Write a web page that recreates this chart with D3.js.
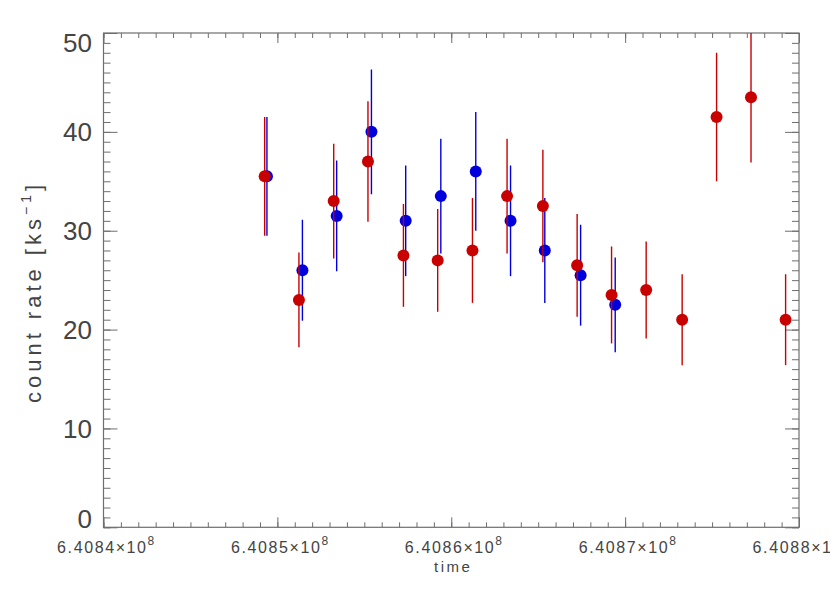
<!DOCTYPE html>
<html>
<head>
<meta charset="utf-8">
<script src="https://cdn.jsdelivr.net/npm/d3@7"></script>
<style>
  body { margin: 0; background: #fff; }
  svg { display: block; font-family: "Liberation Sans", Arial, sans-serif; }
</style>
</head>
<body>
<div id="plot"></div>
<script>
// ---------- Data ---------- //
var redTime = [640849270, 640851240, 640853240, 640855210, 640857250, 640859220, 640861220, 640863210,
               640865270, 640867240, 640869220, 640871210, 640873280, 640875260, 640877240, 640879230];
var redRate = [35.5, 23.0, 33.0, 37.0, 27.5, 27.0, 28.0, 33.5, 32.5, 26.5, 23.5, 24.0, 21.0, 41.5, 43.5, 21.0];
var redErr  = [6.0, 4.8, 5.8, 6.1, 5.2, 5.2, 5.3, 5.8, 5.7, 5.2, 4.9, 4.9, 4.6, 6.5, 6.6, 4.6];

var blueTime = [640849400, 640851440, 640853410, 640855410, 640857380, 640859400, 640861410, 640863410,
                640865380, 640867440, 640869430];
var blueRate = [35.5, 26.0, 31.5, 40.0, 31.0, 33.5, 36.0, 31.0, 28.0, 25.5, 22.5];
var blueErr  = [6.0, 5.1, 5.6, 6.3, 5.6, 5.8, 6.0, 5.6, 5.3, 5.1, 4.8];

var xTicks = [640840000, 640850000, 640860000, 640870000, 640880000];
var yTicks = [0, 10, 20, 30, 40, 50];

var drawPlot = function() {
  var width = 830;
  var height = 593;
  var margin = { top: 33, right: 31, bottom: 65.7, left: 103.5 };

  var x = d3.scaleLinear()
            .domain([640840000, 640880000])
            .range([margin.left, width - margin.right]);
  var y = d3.scaleLinear()
            .domain([0, 50])
            .range([height - margin.bottom, margin.top]);

  var axisColor = "#6e6e6e";
  var textColor = "#444";

  var svg = d3.select("#plot").append("svg")
              .attr("width", width)
              .attr("height", height);

  svg.append("defs").append("clipPath").attr("id", "clip")
     .append("rect")
     .attr("x", margin.left).attr("y", margin.top)
     .attr("width", x.range()[1] - margin.left)
     .attr("height", y.range()[0] - margin.top);

  // ---------- Frame + ticks (inward, mirrored) ---------- //
  var xMinor = d3.range(640840000, 640880001, 1000);
  var yMinor = d3.range(0, 51, 1);

  var tickAxis = function(axis, values, len, tr) {
    svg.append("g")
       .attr("transform", tr)
       .call(axis.tickValues(values).tickSizeInner(len).tickSizeOuter(0).tickFormat(""))
       .call(g => g.select(".domain").remove())
       .call(g => g.selectAll("line").attr("stroke", axisColor).attr("stroke-width", 1));
  };

  tickAxis(d3.axisBottom(x), xMinor, -5, `translate(0,${y(0)})`);
  tickAxis(d3.axisBottom(x), xTicks, -10, `translate(0,${y(0)})`);
  tickAxis(d3.axisTop(x), xMinor, -5, `translate(0,${y(50)})`);
  tickAxis(d3.axisTop(x), xTicks, -10, `translate(0,${y(50)})`);
  tickAxis(d3.axisLeft(y), yMinor, -7, `translate(${x.range()[0]},0)`);
  tickAxis(d3.axisLeft(y), yTicks, -14, `translate(${x.range()[0]},0)`);
  tickAxis(d3.axisRight(y), yMinor, -7, `translate(${x.range()[1]},0)`);
  tickAxis(d3.axisRight(y), yTicks, -14, `translate(${x.range()[1]},0)`);

  svg.append("rect")
     .attr("x", x.range()[0]).attr("y", y(50))
     .attr("width", x.range()[1] - x.range()[0])
     .attr("height", y(0) - y(50))
     .attr("fill", "none")
     .attr("stroke", axisColor)
     .attr("stroke-width", 1.2);

  // ---------- Tick labels ---------- //
  // y labels: centered on tick, but kept inside the frame (like IDL does)
  svg.append("g")
     .attr("font-size", 26)
     .attr("fill", textColor)
     .attr("text-anchor", "end")
     .selectAll("text")
     .data(yTicks)
     .join("text")
     .attr("x", x.range()[0] - 11.5)
     .attr("y", d => Math.max(y(50) + 19, Math.min(y(0) + 0.5, y(d) + 9.5)))
     .text(d => d);

  var xl = svg.append("g")
              .attr("font-size", 16)
              .attr("letter-spacing", 1.6)
              .attr("fill", textColor)
              .attr("text-anchor", "middle")
              .selectAll("text")
              .data(xTicks)
              .join("text")
              .attr("x", d => x(d) + 3)
              .attr("y", 553);
  xl.append("tspan").text(d => (d / 1e8).toFixed(4) + "×10");
  xl.append("tspan").attr("font-size", 12).attr("dy", -8).text("8");

  svg.append("text")
     .attr("x", (x.range()[0] + x.range()[1]) / 2 + 2)
     .attr("y", 572)
     .attr("font-size", 15)
     .attr("letter-spacing", 2.5)
     .attr("fill", textColor)
     .attr("text-anchor", "middle")
     .text("time");

  var yl = svg.append("text")
              .attr("transform", "translate(41,292) rotate(-90)")
              .attr("font-size", 22)
              .attr("letter-spacing", 4)
              .attr("fill", textColor)
              .attr("text-anchor", "middle");
  yl.append("tspan").text("count rate [ks");
  yl.append("tspan").attr("font-size", 14).attr("dy", -10).text("−1");
  yl.append("tspan").attr("dy", 10).text("]");

  // ---------- Data: error bars + points ---------- //
  var series = [
    { color: "#0000dd", time: blueTime, rate: blueRate, err: blueErr },
    { color: "#c80000", time: redTime, rate: redRate, err: redErr }
  ];

  var data = svg.append("g").attr("clip-path", "url(#clip)");

  series.forEach(function(s) {
    var pts = s.time.map((t, i) => ({ t: t, r: s.rate[i], e: s.err[i] }));

    data.append("g")
        .attr("stroke", s.color)
        .attr("stroke-width", 1.4)
        .selectAll("line")
        .data(pts)
        .join("line")
        .attr("x1", d => x(d.t))
        .attr("x2", d => x(d.t))
        .attr("y1", d => y(d.r - d.e))
        .attr("y2", d => y(d.r + d.e));

    data.append("g")
        .attr("fill", s.color)
        .selectAll("circle")
        .data(pts)
        .join("circle")
        .attr("cx", d => x(d.t))
        .attr("cy", d => y(d.r))
        .attr("r", 6);
  });
}

drawPlot();
</script>
</body>
</html>
